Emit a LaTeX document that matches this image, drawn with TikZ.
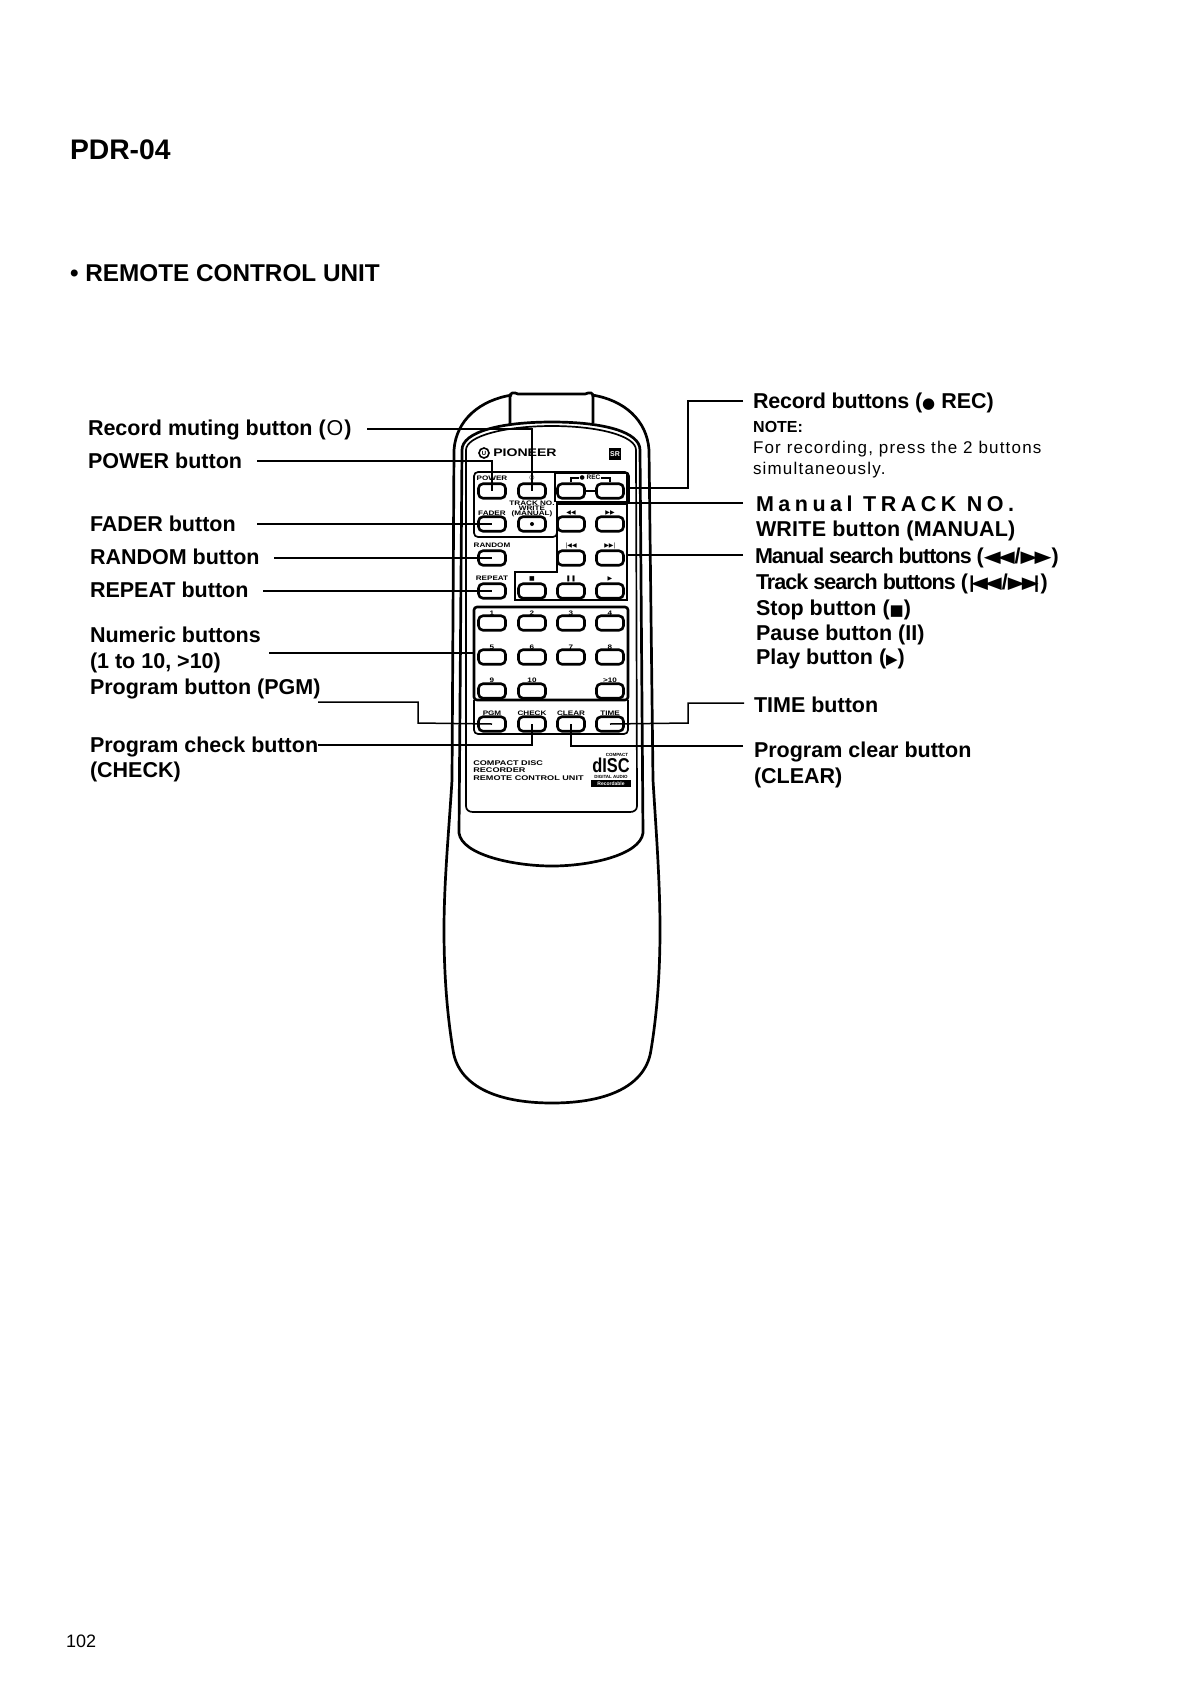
\documentclass[tikz,border=0pt]{standalone}
\usepackage{fontspec}
\setmainfont{Liberation Sans}
\newfontfamily\djf{DejaVu Sans}
\tikzset{
 x=1pt,y=-1pt,
 lab/.style={anchor=base west,inner sep=0pt,outer sep=0pt,font=\fontsize{21.5}{21.5}\selectfont\bfseries},
 big/.style={anchor=base west,inner sep=0pt,outer sep=0pt,font=\fontsize{28.3}{28}\selectfont\bfseries},
 note/.style={anchor=base west,inner sep=0pt,outer sep=0pt,font=\fontsize{17}{17}\selectfont\addfontfeature{LetterSpace=7}},
 conn/.style={line width=1.5pt,line cap=butt,line join=miter},
 body/.style={line width=2.7pt},
 fine/.style={line width=1.7pt},
 btn/.style={draw,line width=2.6pt,rounded corners=4.5pt,minimum width=27pt,minimum height=14.5pt,inner sep=0pt,fill=white},
 tiny/.style={inner sep=0pt,font=\fontsize{6.5}{6.5}\selectfont\bfseries,xscale=1.25,transform shape},
 prt/.style={inner sep=0pt,anchor=base west,font=\fontsize{6.8}{6.8}\selectfont\bfseries,xscale=1.34,transform shape},
}
\newcommand{\gl}[1]{{\djf\fontsize{15}{15}\selectfont #1}}
\newcommand{\gb}[1]{\raisebox{1pt}{\scalebox{1}[0.75]{\djf\fontsize{22}{22}\selectfont #1}}}
\newcommand{\gs}[1]{{\djf\fontsize{6}{6}\selectfont #1}}
\begin{document}
\begin{tikzpicture}
\useasboundingbox (0,0) rectangle (1190,1682);
\fill[white] (0,0) rectangle (1190,1682);
% titles
\node[big] (title) at (70,159) {PDR-04};
\node[anchor=base west,inner sep=0pt,font=\fontsize{24.3}{24}\selectfont\bfseries] (sect) at (70,281) {• REMOTE CONTROL UNIT};
\node[anchor=base west,inner sep=0pt,font=\fontsize{18}{18}\selectfont] (pageno) at (66,1647) {102};
% body
\draw[body] (512,395) .. controls (480,400) and (456,420) .. (454,450) -- (452,780)
  .. controls (449,830) and (444,880) .. (444,930) .. controls (444,980) and (448,1020) .. (453,1050)
  .. controls (458,1085) and (495,1103) .. (552,1103)
  .. controls (609,1103) and (646,1085) .. (651,1050) .. controls (656,1020) and (660,980) .. (660,930)
  .. controls (660,880) and (656,830) .. (653,780) -- (649,450) .. controls (647,420) and (624,400) .. (592,395);
\draw[body] (510,424) -- (510,397) .. controls (510,392) and (514,392) .. (518,394) -- (585,394) .. controls (590,392) and (593,392) .. (593,397) -- (593,423);
\draw[body] (462,450) .. controls (462,432) and (500,422) .. (552,422) .. controls (604,422) and (640,432) .. (640,450)
  -- (643,833) .. controls (640,855) and (590,866) .. (552,866) .. controls (514,866) and (462,855) .. (459,833) -- (462,450);
\draw[fine] (466,450) .. controls (466,436) and (505,426) .. (552,426) .. controls (599,426) and (636,436) .. (636,450)
  -- (637,806) .. controls (637,810) and (634,812) .. (630,812) -- (473,812) .. controls (469,812) and (466,810) .. (466,806) -- (466,450);
% panels
\draw[fine,rounded corners=4pt] (557,528) |- (474,537) |- (629,472) -- (629,503);
\draw[fine] (555,502) |- (627,473) -- (627,502);
\draw[line width=3.2pt] (556,503) -- (628,503);
\draw[fine] (557,503) -- (557,572) -- (515,572) -- (515,600) -- (627,600) -- (627,503);
\draw[line width=2.6pt,rounded corners=3pt] (474,607) rectangle (628,700);
\draw[fine,rounded corners=4pt] (474,700) |- (628,734) -- (628,700);
% buttons
\foreach \n/\x/\y in {power/492/491,mute/532/491,reca/571/491,recb/610/491,
  fader/492/524,manual/532/524,rew/571/524,ffw/610/524,
  random/492/558,prev/571/558,next/610/558,
  repeat/492/591,stop/532/591,pause/571/591,play/610/591,
  n1/492/623,n2/532/623,n3/571/623,n4/610/623,
  n5/492/657,n6/532/657,n7/571/657,n8/610/657,
  n9/492/691,n10/532/691,n11/610/691,
  pgm/492/724,check/532/724,clear/571/724,time/610/724}
  {\node[btn] (b\n) at (\x,\y) {};}
\draw[fine] (breca.east) -- (brecb.west);
% button captions
\foreach \n/\x/\y/\t in {tpower/492/478/POWER,tfader/492/513/FADER,trandom/492/545/RANDOM,trepeat/492/578/REPEAT,
  t1/492/613/1,t2/532/613/2,t3/571/613/3,t4/610/613/4,
  t5/492/647/5,t6/532/647/6,t7/571/647/7,t8/610/647/8,
  t9/492/680/9,t10/532/680/10,t11/610/680/>10,
  tpgm/492/713/PGM,tcheck/532/713/CHECK,tclear/571/713/CLEAR,ttime/610/713/TIME,
  ttrack/532/503/TRACK NO.,twrite/532/508.5/WRITE,tman/532/514/(MANUAL)}
  {\node[tiny] (\n) at (\x,\y) {\t};}
\node[inner sep=0pt] (tmute) at (532,478) {\gs{○}};
\node[inner sep=0pt] (trec) at (590,478) {\gs{●}\,\fontsize{6.5}{6.5}\selectfont\bfseries REC};
\draw[line width=1.2pt] (breca.north) |- (trec.west);
\draw[line width=1.2pt] (brecb.north) |- (trec.east);
\node[inner sep=0pt] (trew) at (571,513) {\gs{◀◀}};
\node[inner sep=0pt] (tffw) at (610,513) {\gs{▶▶}};
\node[inner sep=0pt] (tprev) at (571,546) {\gs{|◀◀}};
\node[inner sep=0pt] (tnext) at (610,546) {\gs{▶▶|}};
\node[inner sep=0pt] (tstop) at (532,579) {\gs{■}};
\node[inner sep=0pt] (tpause) at (571,579) {\gs{❚❚}};
\node[inner sep=0pt] (tplay) at (610,579) {\gs{▶}};
% logos
\node[inner sep=0pt,font=\fontsize{11}{11}\selectfont\bfseries,xscale=1.28,transform shape,anchor=west] (pioneer) at (493,453) {PIONEER};
\node[draw,circle,line width=1.6pt,minimum size=10pt,inner sep=0pt,font=\fontsize{6}{6}\selectfont\bfseries] (plogo) at (484,453) {U};
\node[fill=black,text=white,minimum size=12pt,inner sep=0pt,font=\fontsize{7}{7}\selectfont\bfseries] (srbox) at (615,454) {SR};
\node[prt] (p1) at (473,765) {COMPACT DISC};
\node[prt] (p2) at (473,772.5) {RECORDER};
\node[prt] (p3) at (473,780) {REMOTE CONTROL UNIT};
\node[inner sep=0pt,font=\fontsize{4.5}{4.5}\selectfont\bfseries] (d1) at (617,754.5) {COMPACT};
\node[inner sep=0pt,anchor=base,font=\fontsize{20}{20}\selectfont\bfseries,xscale=.82,transform shape] (d2) at (611,772) {dISC};
\node[inner sep=0pt,font=\fontsize{4.5}{4.5}\selectfont\bfseries] (d3) at (611,776.5) {DIGITAL AUDIO};
\node[fill=black,text=white,inner sep=0pt,minimum width=40pt,minimum height=7pt,font=\fontsize{5}{5}\selectfont\bfseries] (d4) at (611,783.5) {Recordable};
% left labels
\node[lab] (lmute) at (88,435) {Record muting button (\kern1pt{\fontseries{m}\selectfont O}\kern1pt)};
\node[lab] (lpower) at (88,468) {POWER button};
\node[lab] (lfader) at (90,531) {FADER button};
\node[lab] (lrandom) at (90,564) {RANDOM button};
\node[lab] (lrepeat) at (90,597) {REPEAT button};
\node[lab] (lnum) at (90,642) {Numeric buttons};
\node[lab] (lnumb) at (90,668) {(1 to 10, >10)};
\node[lab] (lpgm) at (90,694) {Program button (PGM)};
\node[lab] (lcheck) at (90,752) {Program check button};
\node[lab] (lcheckb) at (90,777) {(CHECK)};
% right labels
\node[lab] (rrec) at (753,408) {{\addfontfeature{LetterSpace=-1}Record buttons (}\gl{●} REC)};
\node[anchor=base west,inner sep=0pt,font=\fontsize{16}{16}\selectfont\bfseries] (rnote) at (753,432) {NOTE:};
\node[note] (rnote2) at (753,453) {For recording, press the 2 buttons};
\node[note] (rnote3) at (753,474) {simultaneously.};
\node[lab,font=\fontsize{21.5}{21.5}\selectfont\bfseries\addfontfeature{LetterSpace=21}] (rman) at (756,511) {Manual TRACK NO.};
\node[lab] (rwrite) at (756,536) {{\addfontfeature{LetterSpace=1}WRITE button (MANUAL)}};
\node[lab] (rsearch) at (755,563) {{\addfontfeature{LetterSpace=-4.5}Manual search buttons (}\gb{◀\kern-3pt◀}/\gb{▶\kern-3pt▶})};
\node[lab] (rtrack) at (756,589) {{\addfontfeature{LetterSpace=-4.5}Track search buttons (}\gb{|\kern-5pt◀\kern-3pt◀}/\gb{▶\kern-3pt▶\kern-6pt|})};
\node[lab] (rstop) at (756,615) {Stop button (\gl{■})};
\node[lab] (rpause) at (756,640) {Pause button (II)};
\node[lab] (rplay) at (756,664) {Play button (\gl{▶})};
\node[lab] (rtime) at (754,712) {TIME button};
\node[lab] (rclear) at (754,757) {Program clear button};
\node[lab] (rclearb) at (754,783) {(CLEAR)};
% connector ends
\coordinate (cmute) at (367,429);
\coordinate (cpower) at (257,461);
\coordinate (cfader) at (257,524);
\coordinate (crandom) at (274,558);
\coordinate (crepeat) at (263,591);
\coordinate (cnum) at (269,653);
\coordinate (cnumend) at (474,653);
\coordinate (cpgm) at (318,702);
\coordinate (kpgm) at (418,723);
\coordinate (ccheck) at (318,745);
\coordinate (cclear) at (743,746);
\coordinate (ctime) at (744,703);
\coordinate (ktime) at (688,723);
\coordinate (crec) at (743,401);
\coordinate (krec) at (688,488);
\coordinate (erec) at (627,488);
\coordinate (cman) at (743,503);
\coordinate (eman) at (627,503);
\coordinate (csearch) at (743,555);
\coordinate (esearch) at (627,555);
% connectors
\draw[conn] (cmute) -| (bmute.center);
\draw[conn] (cpower) -| (bpower.center);
\draw[conn] (cfader) -- (bfader.center);
\draw[conn] (crandom) -- (brandom.center);
\draw[conn] (crepeat) -- (brepeat.center);
\draw[conn] (cnum) -- (cnumend);
\draw[conn] (cpgm) -| (kpgm) -- (bpgm.center);
\draw[conn] (ccheck) -| (bcheck.center);
\draw[conn] (cclear) -| (bclear.center);
\draw[conn] (ctime) -| (ktime) -- (btime.center);
\draw[conn] (crec) -| (krec) -- (erec);
\draw[conn] (cman) -- (eman);
\draw[conn] (csearch) -- (esearch);
\fill (bmanual.center) circle (2pt);
\end{tikzpicture}
\end{document}
